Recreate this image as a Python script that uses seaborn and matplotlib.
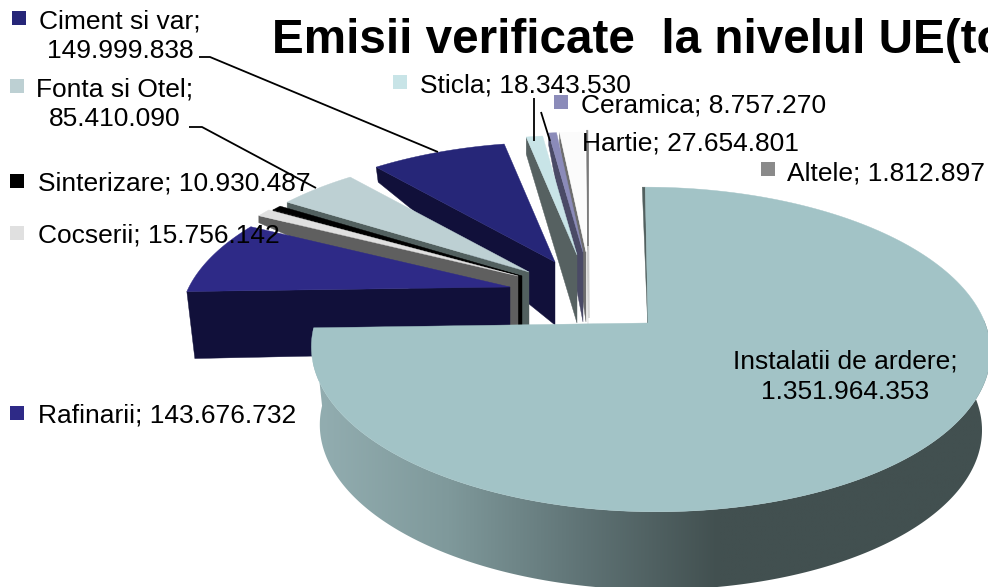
import numpy as np
import matplotlib
matplotlib.use("Agg")
import matplotlib.pyplot as plt
from matplotlib.patches import Polygon
from matplotlib.colors import to_rgb
import seaborn as sns

# ---- data (clockwise from 12 o'clock)
categories = ["Instalatii de ardere", "Rafinarii", "Cocserii", "Sinterizare", "Fonta si Otel",
              "Ciment si var", "Sticla", "Ceramica", "Hartie", "Altele"]
values = [1351964353, 143676732, 15756142, 10930487, 85410090,
          149999838, 18343530, 8757270, 27654801, 1812897]
value_labels = ["1.351.964.353", "143.676.732", "15.756.142", "10.930.487", "85.410.090",
                "149.999.838", "18.343.530", "8.757.270", "27.654.801", "1.812.897"]
title = "Emisii verificate  la nivelul UE(to"

# ---- styles
top_colors = ["#a2c3c6", "#2e2a87", "#e0e0e0", "#000000", "#bdd0d3",
              "#262678", "#c8e4e7", "#8b8bb9", "#fbfbfb", "#8a8a8a"]
wall_colors = ["#52605f", "#11103a", "#5f5f5f", "#000000", "#52605f",
               "#11103a", "#566161", "#4a4a66", "#6e6e6e", "#c4c4c4"]
key_colors = top_colors

# ---- layout in pixels (exploded slice apex, wall depth at apex / rim)
apex_x = [648, 510, 518, 522, 529, 555, 577, 583, 586, 588]
apex_y = [323, 287, 276, 276, 272, 262, 255, 252, 252, 250]
depth_apex = [10, 65, 60, 60, 60, 63, 68, 70, 70, 75]
depth_rim = [0, 67, 7, 5, 6, 15, 17, 12, 10, 0]
rim_dx = [-3, 8, 0, 0, 0, 2, 0, 0, 0, 0]
rx_main, b_main, k_main, shear_main = 335, 158, 0.163, 0.035
main_rim_shift = 2
rx_rest, b_rest, k_rest = 321, 148, 0.235
main_depth = 78

sns.set_theme(style="white")
plt.rcParams["font.family"] = ["Liberation Sans", "DejaVu Sans"]

fig = plt.figure(figsize=(9.88, 5.87), dpi=100)
ax = fig.add_axes([0, 0, 1, 1])
ax.axis("off")

vals = np.asarray(values, dtype=float)
edges = np.concatenate([[0], np.cumsum(vals) / vals.sum() * 2 * np.pi])


def rim(i, th):
    th = np.asarray(th, dtype=float)
    s, c = np.sin(th), np.cos(th)
    if i == 0:
        w = 1 + k_main * c
        y = apex_y[0] - b_main * c / w
        x = apex_x[0] + main_rim_shift + rx_main * s / w + shear_main * (y - apex_y[0])
    else:
        w = 1 + k_rest * c
        y = apex_y[i] - b_rest * c / w
        x = apex_x[i] + rx_rest * s / w
    return x, y


def draw_slice(i, z):
    th0, th1 = edges[i], edges[i + 1]
    # radial side wall
    ox, oy = rim(i, th0)
    ax.fill([apex_x[i], ox, ox + rim_dx[i], apex_x[i]],
            [apex_y[i], oy, oy + depth_rim[i], apex_y[i] + depth_apex[i]],
            color=wall_colors[i], lw=0.3, zorder=z)
    # top surface
    t = np.linspace(th0, th1, 200)
    x, y = rim(i, t)
    ax.fill(np.r_[apex_x[i], x], np.r_[apex_y[i], y],
            color=top_colors[i], lw=0.3, zorder=z + 0.5)


for i in range(len(values) - 1, 0, -1):
    draw_slice(i, 2 + (10 - i))

# main slice: shaded outer wall, then radial wall and top
ramp = sns.blend_palette(["#93aeb1", "#7f999b", "#5f7375", "#425050", "#425050", "#425050"],
                         n_colors=256)
th = np.linspace(np.radians(75), edges[1], 300)
xt, yt = rim(0, th)
cx0 = apex_x[0] + main_rim_shift
xb = cx0 + (xt - cx0) * 0.975
yb = yt + main_depth
wall = Polygon(np.c_[np.r_[xt, xb[::-1]], np.r_[yt, yb[::-1]]], closed=True,
               transform=ax.transData, fc="none", ec="none")
ax.add_patch(wall)
grad = np.array([to_rgb(c) for c in ramp])[None, :, :]
im = ax.imshow(grad, extent=(313, 988, 600, 320), aspect="auto", interpolation="bilinear", zorder=20)
im.set_clip_path(wall)
draw_slice(0, 21)
ax.set_xlim(0, 988)
ax.set_ylim(587, 0)

# leader lines
leaders = [([199, 210, 438], [57, 57, 152], "black", 1.3),
           ([189, 202, 316], [127, 127, 188], "black", 1.3),
           ([534, 534], [98, 141], "black", 1.3),
           ([541, 550], [112, 141], "black", 1.3),
           ([588, 588], [142, 246], "#777777", 1.2),
           ([588.5, 589], [246, 318], "#cccccc", 1.0)]
for lx, ly, lc, lw in leaders:
    ax.plot(lx, ly, color=lc, lw=lw, zorder=25, solid_capstyle="butt")

FS = 19


def lab(i, x, y, two=False, key=None, ha="left"):
    if two:
        ax.text(x, y[0], categories[i] + ";", fontsize=FS, ha="center", va="center", color="black", zorder=30)
        ax.text(x, y[1], value_labels[i], fontsize=FS, ha="center", va="center", color="black", zorder=30)
    else:
        ax.text(x, y, f"{categories[i]}; {value_labels[i]}", fontsize=FS, ha=ha, va="center",
                color="black", zorder=30)
    if key is not None:
        ax.fill([key[0], key[0] + 14, key[0] + 14, key[0]], [key[1], key[1], key[1] + 14, key[1] + 14],
                color=key_colors[i], lw=0, zorder=30)


lab(5, 120, (21, 51), True, (12, 11))
lab(4, 115, (89, 119), True, (10, 79))
lab(3, 38, 184, key=(10, 174))
lab(2, 38, 235, key=(10, 226))
lab(1, 38, 416, key=(10, 406))
lab(6, 420, 85, key=(393, 75))
lab(7, 581, 105, key=(554, 95))
lab(8, 582, 143, key=(565, 135))
lab(9, 787, 173, key=(761, 162))
lab(0, 845, (362, 392), True, (704, 353))

ax.text(272, 53, title, fontsize=34.3, fontweight="bold", ha="left", va="baseline", color="black",
        zorder=31, clip_on=False)

fig.savefig("out.png", dpi=100, facecolor="white")
